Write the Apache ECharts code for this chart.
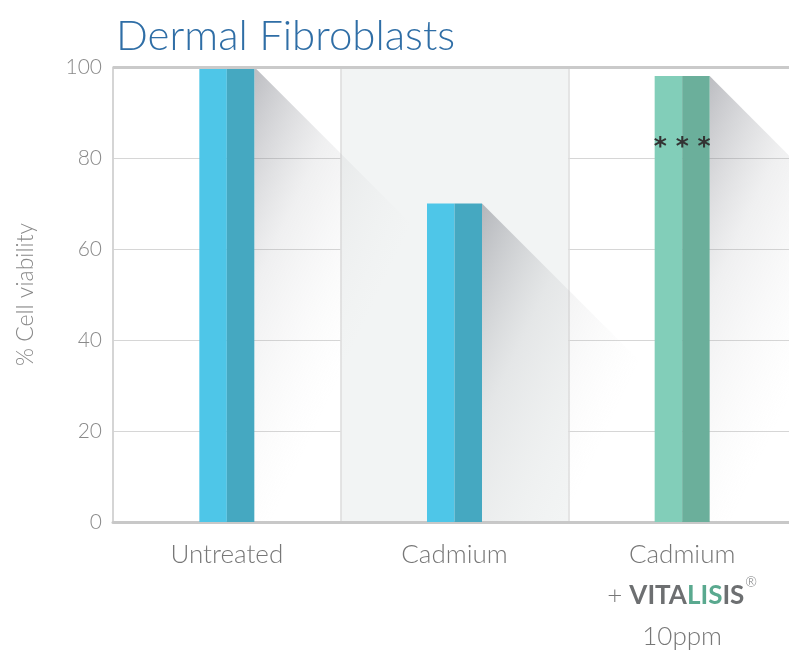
<!DOCTYPE html>
<html><head><meta charset="utf-8">
<script src="https://cdn.jsdelivr.net/npm/echarts@6/dist/echarts.min.js"></script>
<style>html,body{margin:0;padding:0;background:#fff}#c{width:789px;height:653px}</style>
</head><body><div id="c"></div>
<script>
const categories = ['Untreated', 'Cadmium', 'Cadmium + VITALISIS 10ppm'];
const values = [100, 70, 98];
const significance = ['', '', '* * *'];
const yTicks = [0, 20, 40, 60, 80, 100];
const lightColors = ['#4ec6e8', '#4ec6e8', '#82ceb9'];
const darkColors = ['#45a8c1', '#45a8c1', '#6baf9b'];

const chart = echarts.init(document.getElementById('c'));
const FONT = 'Lato, "Open Sans", sans-serif';
const HALF = 27.5;

chart.setOption({
  animation: false,
  title: {
    text: 'Dermal Fibroblasts', left: 111, top: 10,
    textStyle: { color: '#2f6ea6', fontSize: 42, fontWeight: 300, fontFamily: FONT }
  },
  grid: { left: 113, top: 67, width: 683, height: 455, containLabel: false, outerBoundsMode: 'none' },
  xAxis: {
    type: 'category', data: categories,
    axisLine: { lineStyle: { color: '#c8c8c8', width: 3 } },
    axisTick: { show: false },
    splitLine: { show: true, interval: 0, lineStyle: { color: '#dcdcdc', width: 1.5 } },
    splitArea: { show: true, interval: 0, areaStyle: { color: ['rgba(0,0,0,0)', '#f2f4f4'] } },
    axisLabel: {
      interval: 0, hideOverlap: false,
      margin: 12, color: '#777', fontSize: 26, fontFamily: FONT, fontWeight: 300, lineHeight: 41,
      formatter: function (v, i) {
        if (i === 2) return '{a|Cadmium}\n{a|+ }{b|VITA}{c|LIS}{b|IS}{r|®}\n{a|10ppm}';
        return v;
      },
      rich: {
        a: { color: '#777', fontSize: 26, fontFamily: FONT, fontWeight: 300, lineHeight: 41 },
        b: { color: '#6d6f71', fontSize: 26, fontFamily: FONT, fontWeight: 'bold', lineHeight: 41 },
        c: { color: '#5aa98f', fontSize: 26, fontFamily: FONT, fontWeight: 'bold', lineHeight: 41 },
        r: { color: '#6d6f71', fontSize: 14, fontFamily: FONT, verticalAlign: 'top', lineHeight: 41, padding: [0, 0, 10, 1] }
      }
    }
  },
  yAxis: {
    type: 'value', min: 0, max: 100, interval: 20,
    name: '% Cell viability', nameLocation: 'middle', nameGap: 76,
    nameTextStyle: { color: '#888', fontSize: 23, fontFamily: FONT, fontWeight: 300 },
    axisLine: { show: true, lineStyle: { color: '#d0d0d0', width: 1.5 } },
    axisTick: { show: false },
    splitLine: { lineStyle: { color: '#d6d6d6', width: 1 } },
    axisLabel: {
      margin: 11, color: '#8a8a8a', fontSize: 21, fontFamily: FONT, fontWeight: 300,
      formatter: function (v) { return yTicks.indexOf(v) >= 0 ? String(v) : ''; }
    }
  },
  series: [
    {
      type: 'custom', z: 1, silent: true,
      data: values.map((v, i) => [i, v]),
      renderItem: function (params, api) {
        const top = api.coord([api.value(0), api.value(1)]);
        const bot = api.coord([api.value(0), 0]);
        const xr = top[0] + HALF;
        const h = bot[1] - top[1];
        return {
          type: 'polygon',
          shape: { points: [[xr, top[1]], [xr + h, bot[1]], [xr, bot[1]]] },
          style: {
            fill: new echarts.graphic.LinearGradient(xr, top[1], xr + 190, top[1] + 90, [
              { offset: 0, color: 'rgba(95,97,108,0.42)' },
              { offset: 0.45, color: 'rgba(150,152,158,0.15)' },
              { offset: 1, color: 'rgba(210,210,210,0)' }
            ], true)
          }
        };
      }
    },
    {
      type: 'bar', z: 3, barWidth: HALF, barGap: '0%',
      data: values.map((v, i) => ({ value: v, itemStyle: { color: lightColors[i] } })),
      label: {
        show: true, position: 'insideTop', distance: 0, offset: [HALF / 2, 59],
        color: '#333', fontSize: 25, fontWeight: 'bold', fontFamily: 'DejaVu Sans',
        formatter: function (p) { return significance[p.dataIndex]; }
      },
      markLine: {
        silent: true, symbol: 'none', label: { show: false },
        lineStyle: { color: '#cacaca', width: 3, type: 'solid' },
        data: [{ yAxis: 100 }]
      }
    },
    {
      type: 'bar', z: 3, barWidth: HALF, barGap: '0%',
      data: values.map((v, i) => ({ value: v, itemStyle: { color: darkColors[i] } }))
    }
  ]
});
</script></body></html>
